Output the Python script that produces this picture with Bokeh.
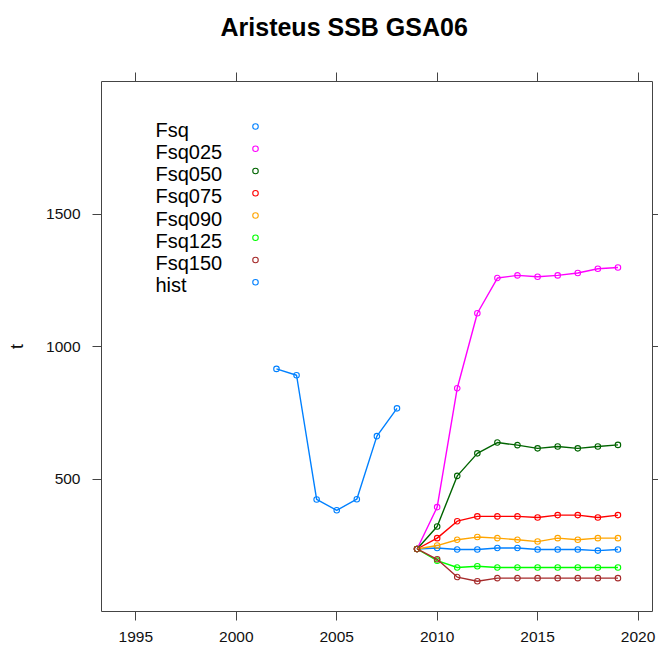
from bokeh.plotting import figure
from bokeh.models import Range1d, LinearAxis, FixedTicker, Title
from bokeh.core.properties import value
from bokeh.embed import file_html
from bokeh.resources import INLINE

# ---------------- data ----------------
hist_years = [2002, 2003, 2004, 2005, 2006, 2007, 2008]
hist_ssb = [916, 892, 423, 382, 424, 662, 767]

proj_years = [2009, 2010, 2011, 2012, 2013, 2014, 2015, 2016, 2017, 2018, 2019]
fsq    = [236, 240, 234, 234, 240, 240, 234, 234, 234, 230, 234]
fsq025 = [236, 394, 843, 1126, 1259, 1269, 1264, 1269, 1278, 1294, 1299]
fsq050 = [236, 321, 512, 597, 638, 628, 616, 623, 616, 623, 629]
fsq075 = [236, 277, 341, 359, 359, 359, 355, 364, 364, 355, 364]
fsq090 = [236, 249, 271, 281, 277, 271, 264, 277, 271, 277, 277]
fsq125 = [236, 192, 166, 171, 166, 166, 166, 166, 166, 166, 166]
fsq150 = [236, 197, 130, 114, 126, 126, 126, 126, 126, 126, 126]

series_names = ["Fsq", "Fsq025", "Fsq050", "Fsq075", "Fsq090", "Fsq125", "Fsq150", "hist"]
series_colors = ["#0080ff", "#ff00ff", "#006400", "#ff0000", "#ffa500", "#00ff00", "#a52a2a", "#0080ff"]

x_ticks = [1995, 2000, 2005, 2010, 2015, 2020]
y_ticks = [500, 1000, 1500]

title_text = "Aristeus SSB GSA06"
y_label = "t"

# ---------------- figure ----------------
X0, X1 = 1993.29, 2020.72
Y0, Y1 = 0, 2001
FL, FR, FT, FB = 101, 652, 81, 611  # frame edges in pixels

frame_col = "#444444"
font = "Liberation Sans"

p = figure(width=658, height=654, output_backend="svg", toolbar_location=None,
           x_range=Range1d(X0, X1), y_range=Range1d(Y0, Y1),
           min_border_left=FL, min_border_right=658 - FR,
           min_border_top=FT, min_border_bottom=654 - FB,
           x_axis_location=None, y_axis_location=None)
p.grid.visible = False
p.outline_line_color = frame_col
p.outline_line_width = 1
p.background_fill_color = "white"
p.border_fill_color = "white"

def style_axis(ax, ticks, labels=True):
    ax.axis_line_color = None
    ax.major_tick_line_color = frame_col
    ax.major_tick_line_width = 1
    ax.major_tick_out = 9
    ax.major_tick_in = 0
    ax.minor_tick_line_color = None
    ax.major_label_text_font = font
    ax.major_label_text_color = "#111111"
    if labels:
        ax.major_label_text_font_size = "15.5px"
        ax.major_label_standoff = 12
    else:
        ax.major_label_overrides = {t: "" for t in ticks}
        ax.major_label_text_font_size = "0px"
        ax.major_label_standoff = 0

bottom = LinearAxis(ticker=FixedTicker(ticks=x_ticks))
style_axis(bottom, x_ticks)
bottom.major_label_standoff = 11
p.add_layout(bottom, "below")

top = LinearAxis(ticker=FixedTicker(ticks=x_ticks))
style_axis(top, x_ticks, labels=False)
p.add_layout(top, "above")

# invisible spacer between top ticks and title
spacer = LinearAxis(ticker=FixedTicker(ticks=x_ticks))
style_axis(spacer, x_ticks, labels=False)
spacer.major_tick_line_color = None
spacer.major_tick_out = 27
p.add_layout(spacer, "above")

left = LinearAxis(ticker=FixedTicker(ticks=y_ticks), axis_label=y_label)
style_axis(left, y_ticks)
left.axis_label_text_font = font
left.axis_label_text_font_size = "18px"
left.axis_label_text_font_style = "normal"
left.axis_label_standoff = 16
left.axis_label_text_color = "#111111"
p.add_layout(left, "left")

right = LinearAxis(ticker=FixedTicker(ticks=y_ticks))
style_axis(right, y_ticks, labels=False)
right.major_tick_out = 6
p.add_layout(right, "right")

p.title = Title(text=title_text, align="left", offset=119,
                text_font=font, text_font_size="25px", text_font_style="bold",
                text_color="black", standoff=10)

# ---------------- series ----------------
proj_values = [fsq, fsq025, fsq050, fsq075, fsq090, fsq125, fsq150]
for vals, col in zip(proj_values, series_colors[:7]):
    p.line(proj_years, vals, line_color=col, line_width=1.4)
    p.scatter(proj_years, vals, marker="circle", size=5.5, fill_color=None,
              line_color=col, line_width=1.1)

p.line(hist_years, hist_ssb, line_color=series_colors[7], line_width=1.4)
p.scatter(hist_years, hist_ssb, marker="circle", size=5.5, fill_color=None,
          line_color=series_colors[7], line_width=1.1)

# ---------------- legend (text left, symbol right) ----------------
def px2x(px):
    return X0 + (px - FL) / (FR - FL) * (X1 - X0)

def py2y(py):
    return Y0 + (FB - py) / (FB - FT) * (Y1 - Y0)

step = 22.25
lx_text, lx_sym = px2x(155), px2x(255)
ly_base = [py2y(129 + i * step) for i in range(len(series_names))]
ly_sym = [py2y(126 + i * step) for i in range(len(series_names))]

p.text(x=[lx_text] * len(series_names), y=ly_base, text=series_names,
       text_font=value(font), text_font_size="20px", text_color="black",
       text_align="left", text_baseline="alphabetic")
p.scatter(x=[lx_sym] * len(series_names), y=ly_sym, marker="circle", size=5.5,
          fill_color=None, line_color=series_colors, line_width=1.1)

open("out.html", "w").write(file_html(p, INLINE))
